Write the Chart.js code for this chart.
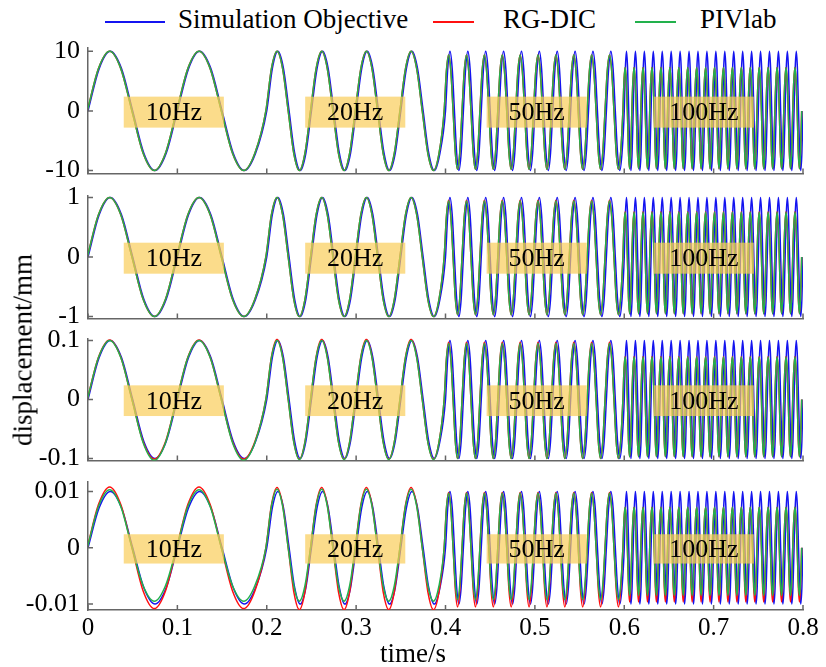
<!DOCTYPE html>
<html>
<head>
<meta charset="utf-8">
<title>displacement</title>
<script src="https://cdn.jsdelivr.net/npm/chart.js@4.4.1/dist/chart.umd.min.js"></script>
<style>
  body { margin: 0; background: #fff; }
  #wrap {
    position: relative; width: 826px; height: 667px; overflow: hidden;
    font-family: "Liberation Serif", "Times New Roman", serif; color: #000;
  }
  canvas.panel { position: absolute; left: 0; }
  .leg-line { position: absolute; height: 2px; top: 21px; }
  .leg-text { position: absolute; top: 6px; font-size: 27px; line-height: 27px; white-space: nowrap; }
  #ytitle {
    position: absolute; left: 23px; top: 350px; font-size: 27px; line-height: 27px;
    white-space: nowrap; transform: translate(-50%, -50%) rotate(-90deg);
  }
  #xtitle { position: absolute; left: 413px; top: 640px; font-size: 27px; line-height: 27px;
    white-space: nowrap; transform: translateX(-50%); }
</style>
</head>
<body>
<div id="wrap">
  <div class="leg-line" style="left:105px;width:60px;background:#1414f0"></div>
  <div class="leg-text" style="left:178px">Simulation Objective</div>
  <div class="leg-line" style="left:433px;width:41px;background:#ff1010"></div>
  <div class="leg-text" style="left:503px">RG-DIC</div>
  <div class="leg-line" style="left:635px;width:41px;background:#22b14c"></div>
  <div class="leg-text" style="left:700px">PIVlab</div>

  <canvas class="panel" id="p0"></canvas>
  <canvas class="panel" id="p1"></canvas>
  <canvas class="panel" id="p2"></canvas>
  <canvas class="panel" id="p3"></canvas>

  <div id="ytitle">displacement/mm</div>
  <div id="xtitle">time/s</div>
</div>

<script>
// ---------------- DATA ----------------

// excitation segments
const segLabels = ["10Hz", "20Hz", "50Hz", "100Hz"];
const segStart = [0, 0.2, 0.4, 0.6];
const segFreq = [10, 20, 50, 100];
const segCycles = [2, 4, 10, 20];

// one period of the signal, read at 1/8 period steps
const cycleShape = [0, 0.71, 1, 0.71, 0, -0.71, -1, -0.71];

// amplitude of each panel (mm)
const panelAmp = [10, 1, 0.1, 0.01];

// measured peak / trough size relative to the amplitude, per panel and segment
const rgPeak = [
  [1.0, 1.0, 0.94, 0.73],
  [1.0, 1.0, 0.95, 0.76],
  [1.01, 1.02, 0.97, 0.73],
  [1.08, 1.07, 0.98, 0.72]
];
const rgTrough = [
  [1.0, 1.0, 0.98, 0.97],
  [1.0, 1.0, 0.97, 0.95],
  [1.01, 1.01, 1.0, 0.97],
  [1.08, 1.1, 1.05, 0.96]
];
const pivPeak = [
  [1.0, 1.0, 0.94, 0.73],
  [1.0, 1.0, 0.94, 0.75],
  [1.0, 1.0, 0.95, 0.72],
  [1.03, 1.04, 0.97, 0.72]
];
const pivTrough = [
  [1.0, 1.0, 0.98, 0.97],
  [1.0, 1.0, 0.97, 0.95],
  [1.03, 1.02, 1.0, 0.97],
  [0.95, 0.95, 0.92, 0.85]
];

// measured curves run slightly ahead of the simulation (s)
const measLead = [0.0008, 0.001, 0.0015, 0.0015];

// ticks
const xTicks = [0, 0.1, 0.2, 0.3, 0.4, 0.5, 0.6, 0.7, 0.8];
const xTickLabels = ["0", "0.1", "0.2", "0.3", "0.4", "0.5", "0.6", "0.7", "0.8"];
const yTicks = [[-10, 0, 10], [-1, 0, 1], [-0.1, 0, 0.1], [-0.01, 0, 0.01]];
const yTickLabels = [["-10", "0", "10"], ["-1", "0", "1"], ["-0.1", "0", "0.1"], ["-0.01", "0", "0.01"]];
const yMin = [-10.48, -1.03, -0.1032, -0.01105];
const yMax = [10.63, 1.03, 0.1032, 0.01175];

// label boxes (time range, height relative to amplitude)
const boxFrom = [0.04, 0.243, 0.446, 0.633];
const boxTo = [0.152, 0.355, 0.558, 0.745];
const boxHi = 0.24;
const boxLo = -0.28;


// ---------------- LAYOUT ----------------

const panelTop = [44, 192, 335, 478];
const panelBottom = [177, 322, 464, 610];
const PAD_T = 20;
const PAD_B = 20;
const AXIS_COLOR = "#666";
const FONT = "'Liberation Serif', 'Times New Roman', serif";

const colors = { sim: "#1414f0", rg: "#ff1010", piv: "#22b14c" };


function buildSeries(amp, peak, trough, lead) {
  const pts = [];
  for (let s = 0; s < segStart.length; s++) {
    const step = 1 / (8 * segFreq[s]);
    for (let c = 0; c < segCycles[s]; c++) {
      for (let k = 0; k < cycleShape.length; k++) {
        const v = cycleShape[k];
        const y = v >= 0 ? v * amp * peak[s] : v * amp * trough[s];
        pts.push({ x: segStart[s] + (c * 8 + k) * step - lead[s], y: y });
      }
    }
  }
  pts.push({ x: 0.8 - lead[3], y: 0 });
  return pts;
}

const ones = [1, 1, 1, 1];
const noLead = [0, 0, 0, 0];


const panelDecor = {
  id: "panelDecor",
  afterDatasetsDraw(chart, args, opts) {
    const { ctx, chartArea } = chart;
    const x = chart.scales.x;
    const y = chart.scales.y;
    const i = opts.index;

    ctx.save();

    segLabels.forEach((lab, s) => {
      const x0 = x.getPixelForValue(boxFrom[s]);
      const x1 = x.getPixelForValue(boxTo[s]);
      const y0 = y.getPixelForValue(boxHi * panelAmp[i]);
      const y1 = y.getPixelForValue(boxLo * panelAmp[i]);
      ctx.fillStyle = "rgba(250, 205, 90, 0.7)";
      ctx.fillRect(x0, y0, x1 - x0, y1 - y0);
      ctx.fillStyle = "#000";
      ctx.font = "26px " + FONT;
      ctx.textAlign = "center";
      ctx.textBaseline = "middle";
      ctx.fillText(lab, (x0 + x1) / 2, (y0 + y1) / 2 + 1);
    });

    // inward tick marks
    ctx.strokeStyle = AXIS_COLOR;
    ctx.lineWidth = 1.5;
    ctx.beginPath();
    xTicks.forEach(v => {
      const px = x.getPixelForValue(v);
      ctx.moveTo(px, chartArea.bottom);
      ctx.lineTo(px, chartArea.bottom - 5);
    });
    yTicks[i].forEach(v => {
      const py = y.getPixelForValue(v);
      ctx.moveTo(chartArea.left, py);
      ctx.lineTo(chartArea.left + 5, py);
    });
    ctx.stroke();

    ctx.restore();
  }
};


function makePanel(i) {
  const canvas = document.getElementById("p" + i);
  const last = i === 3;
  const xH = last ? 40 : 0;
  const h = PAD_T + (panelBottom[i] - panelTop[i]) + xH + PAD_B;

  canvas.style.top = (panelTop[i] - PAD_T) + "px";
  canvas.width = 826;
  canvas.height = h;
  canvas.style.width = "826px";
  canvas.style.height = h + "px";

  const amp = panelAmp[i];

  new Chart(canvas, {
    type: "line",
    data: {
      datasets: [
        {
          label: "PIVlab",
          data: buildSeries(amp, pivPeak[i], pivTrough[i], measLead),
          borderColor: colors.piv
        },
        {
          label: "RG-DIC",
          data: buildSeries(amp, rgPeak[i], rgTrough[i], measLead),
          borderColor: colors.rg
        },
        {
          label: "Simulation Objective",
          data: buildSeries(amp, ones, ones, noLead),
          borderColor: colors.sim
        }
      ]
    },
    options: {
      responsive: false,
      animation: false,
      devicePixelRatio: 1,
      layout: { padding: { left: 0, right: 23, top: PAD_T, bottom: PAD_B } },
      elements: {
        point: { radius: 0 },
        line: { borderWidth: 1.5, cubicInterpolationMode: "monotone", fill: false }
      },
      plugins: {
        legend: { display: false },
        tooltip: { enabled: false },
        panelDecor: { index: i }
      },
      scales: {
        x: {
          type: "linear",
          min: 0,
          max: 0.8,
          afterBuildTicks: s => { s.ticks = xTicks.map(v => ({ value: v })); },
          afterFit: s => { s.height = xH; },
          grid: { display: false, drawTicks: false },
          border: { display: true, color: AXIS_COLOR, width: 1.5 },
          ticks: {
            display: last,
            padding: 3,
            maxRotation: 0,
            autoSkip: false,
            color: "#000",
            font: { family: FONT, size: 25 },
            callback: (v, idx) => xTickLabels[idx]
          }
        },
        y: {
          type: "linear",
          min: yMin[i],
          max: yMax[i],
          afterBuildTicks: s => { s.ticks = yTicks[i].map(v => ({ value: v })); },
          afterFit: s => { s.width = 88; },
          grid: { display: false, drawTicks: false },
          border: { display: true, color: AXIS_COLOR, width: 1.5 },
          ticks: {
            padding: 8,
            color: "#000",
            font: { family: FONT, size: 26 },
            callback: (v, idx) => yTickLabels[i][idx]
          }
        }
      }
    },
    plugins: [panelDecor]
  });
}

[0, 1, 2, 3].forEach(makePanel);
</script>
</body>
</html>
